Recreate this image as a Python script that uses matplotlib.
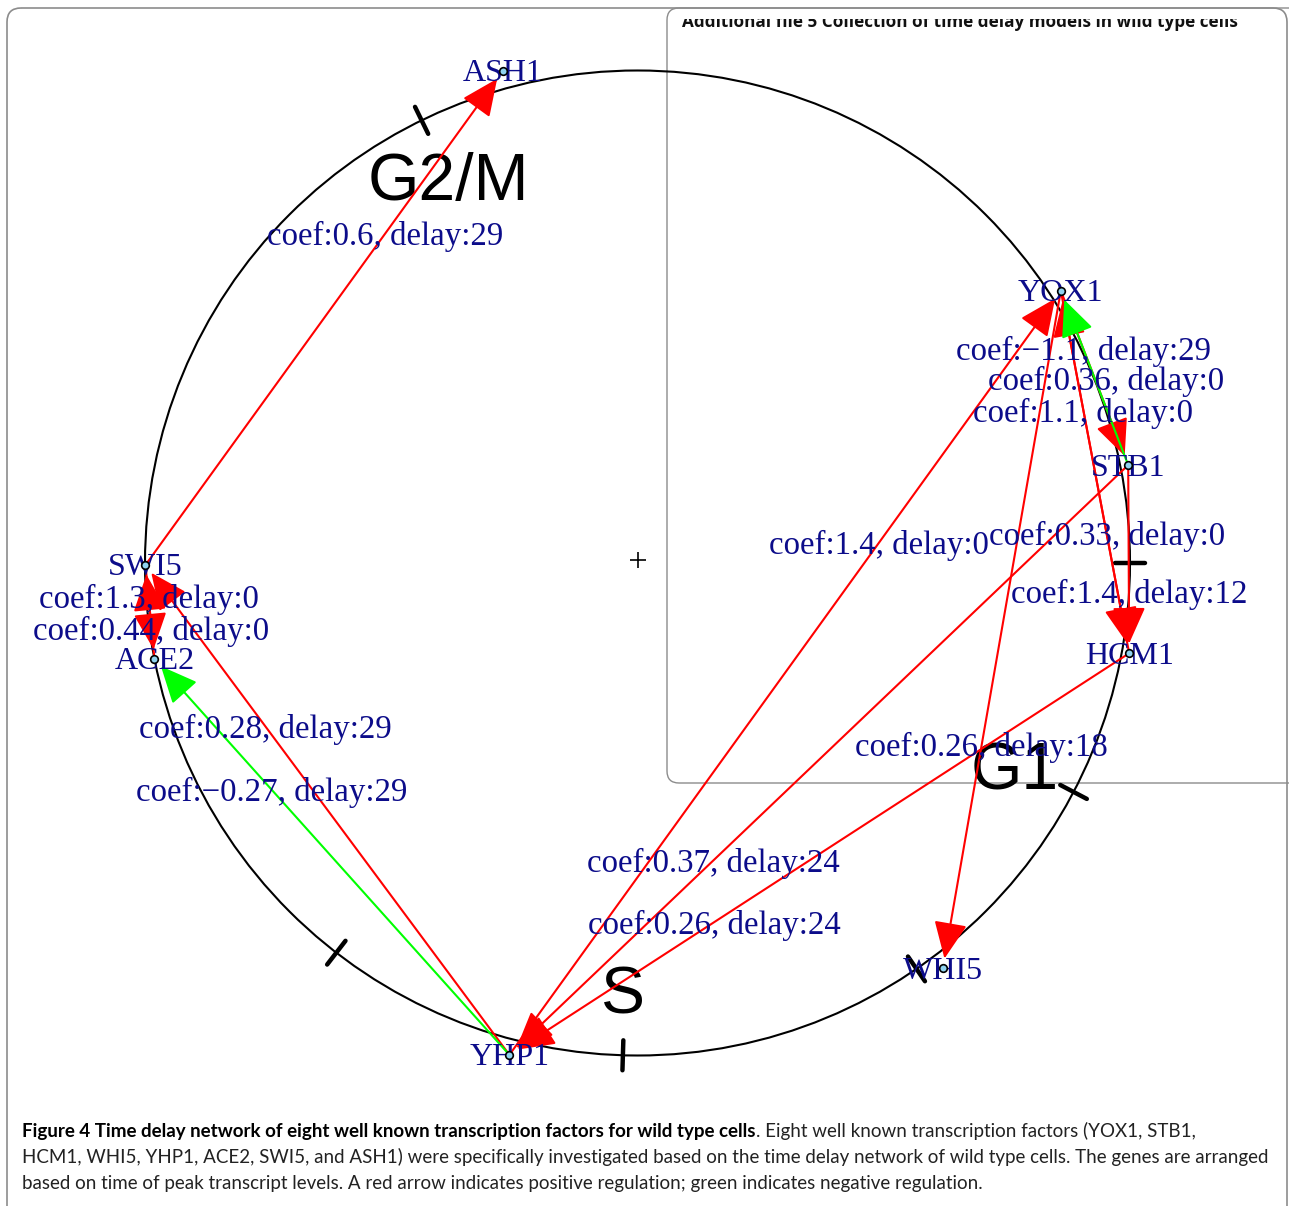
import numpy as np
import matplotlib
matplotlib.use('Agg')
import matplotlib.pyplot as plt
from matplotlib.patches import Circle, FancyBboxPatch
from matplotlib.transforms import Bbox

# ---------------- data ----------------
genes = ['YOX1', 'STB1', 'HCM1', 'WHI5', 'YHP1', 'ACE2', 'SWI5', 'ASH1']
gene_angle = [32.75, 11.29, -10.40, -53.0, -104.6, 191.24, 180.23, 105.3]   # degrees on the cycle circle
gene_radius = [1.022, 1.016, 1.015, 1.030, 1.032, 1.000, 0.999, 1.036]      # relative to circle radius

edge_source = ['SWI5', 'YHP1', 'STB1', 'YOX1', 'HCM1', 'YOX1', 'STB1',
               'YOX1', 'STB1', 'HCM1', 'YHP1', 'YHP1', 'ACE2', 'SWI5']
edge_target = ['ASH1', 'YOX1', 'YOX1', 'STB1', 'YOX1', 'HCM1', 'HCM1',
               'WHI5', 'YHP1', 'YHP1', 'SWI5', 'ACE2', 'SWI5', 'ACE2']
edge_coef = [0.6, 1.4, -1.1, 0.36, 1.1, 0.33, 1.4, 0.26, 0.37, 0.26, 0.28, -0.27, 1.3, 0.44]
edge_delay = [29, 0, 29, 0, 0, 0, 12, 18, 24, 24, 29, 29, 0, 0]

phase_names = ['G2/M', 'S', 'G1']
phase_angle = [116.2, -91.9, -28.4]
boundary_angle = [116.0, -127.7, -91.7, -55.5, -27.7, 0.0]

caption_bold = 'Figure 4 Time delay network of eight well known transcription factors for wild type cells'
caption_rest = '. Eight well known transcription factors (YOX1, STB1,'
caption_line2 = ('HCM1, WHI5, YHP1, ACE2, SWI5, and ASH1) were specifically investigated based on the '
                 'time delay network of wild type cells. The genes are arranged')
caption_line3 = ('based on time of peak transcript levels. A red arrow indicates positive regulation; '
                 'green indicates negative regulation.')
inset_title = 'Additional file 5 Collection of time delay models in wild type cells'

# ---------------- layout ----------------
W, H = 1289, 1206
CX, CY, R = 637.5, 563.0, 492.5
NAVY = '#0c0c8a'
LABEL_T = 0.67
TXT_DY = 3
label_offset = {3: (0, -29)}

fig = plt.figure(figsize=(W / 100, H / 100), dpi=100)
ax = fig.add_axes([0, 0, 1, 1])
ax.set_xlim(0, W)
ax.set_ylim(H, 0)
ax.axis('off')


def polar(angle_deg, r):
    a = np.deg2rad(angle_deg)
    return CX + R * r * np.cos(a), CY - R * r * np.sin(a)


# frames
ax.add_patch(FancyBboxPatch((7, 8), 1280, 1260, boxstyle='round,pad=0,rounding_size=14',
                            fc='none', ec='#8c8c8c', lw=1.2, zorder=0))
ax.add_patch(FancyBboxPatch((667, 8), 640, 775, boxstyle='round,pad=0,rounding_size=12',
                            fc='none', ec='#8c8c8c', lw=1.0, zorder=0))
t_in = ax.text(682, 27, inset_title, fontsize=15, fontweight='bold', family=['Open Sans', 'DejaVu Sans'],
               ha='left', va='baseline', color='#111111', zorder=0)
# only the lower part of the inset title is visible (clipped at the top)
t_in.set_clip_on(True)
t_in.set_clip_path(None)
t_in.set_clip_box(Bbox.from_extents(667, 0, 1300, H - 19))

# cycle circle
ax.add_patch(Circle((CX, CY), R, fc='none', ec='black', lw=1.5, zorder=1))
ax.plot([CX], [CY - 3], marker='+', ms=11, mew=1.2, color='black', zorder=1)

# phase boundary ticks
for a in boundary_angle:
    x0, y0 = polar(a, 1 - 15 / R)
    x1, y1 = polar(a, 1 + 15 / R)
    ax.plot([x0, x1], [y0, y1], color='black', lw=3.2, solid_capstyle='round', zorder=2)

# phase labels
for name, a in zip(phase_names, phase_angle):
    x, y = polar(a, 0.871)
    ax.text(x, y + 5, name, fontsize=47.5, family=['Liberation Sans', 'DejaVu Sans'],
            ha='center', va='center', color='black', zorder=2)

pos = {g: polar(a, r) for g, a, r in zip(genes, gene_angle, gene_radius)}

# edges
for i, (s, t, c, d) in enumerate(zip(edge_source, edge_target, edge_coef, edge_delay)):
    col = '#ff0000' if c > 0 else '#00ff00'
    (sx, sy), (tx, ty) = pos[s], pos[t]
    ax.annotate('', xy=(tx, ty), xytext=(sx, sy),
                arrowprops=dict(arrowstyle='-|>,head_length=1.15,head_width=0.52',
                                mutation_scale=20, color=col, lw=1.5,
                                shrinkA=0, shrinkB=7), zorder=3 if c > 0 else 3.5)
    lx = sx + LABEL_T * (tx - sx)
    ly = sy + LABEL_T * (ty - sy)
    ox, oy = label_offset.get(i, (0, 0))
    txt = f'coef:{c:.2g}, delay:{d}'.replace('-', '\u2212')
    ax.text(lx + ox, ly + oy + TXT_DY, txt, fontsize=23.7, family=['Liberation Serif', 'DejaVu Serif'],
            ha='center', va='center', color=NAVY, zorder=5)

# nodes
for g in genes:
    x, y = pos[g]
    ax.plot([x], [y], marker='o', ms=5.5, mfc='#8fd3f0', mec='black', mew=1.2, zorder=6)
    ax.text(x, y + TXT_DY, g, fontsize=23, family=['Liberation Serif', 'DejaVu Serif'],
            ha='center', va='center', color=NAVY, zorder=5)

# caption
cap_family = ['Liberation Sans Narrow', 'DejaVu Sans Condensed', 'Lato', 'DejaVu Sans']
t2 = ax.text(22, 1157, caption_line2, fontsize=14, family=cap_family, ha='left', va='center',
             color='#222222')
fig.canvas.draw()
rend = fig.canvas.get_renderer()
w = t2.get_window_extent(rend).width
fs = 14 * 1248 / w
t2.set_fontsize(fs)
t1 = ax.text(22, 1131, caption_bold, fontsize=fs, fontweight='bold', family=cap_family,
             ha='left', va='center', color='black')
ax.annotate(caption_rest, xy=(1, 0), xycoords=t1, ha='left', va='bottom', fontsize=fs,
            family=cap_family, color='#222222')
ax.text(22, 1184, caption_line3, fontsize=fs, family=cap_family, ha='left', va='center',
        color='#222222')

fig.canvas.draw()
w = t_in.get_window_extent(rend).width
t_in.set_fontsize(15 * 555 / w)

fig.savefig('out.png', dpi=100)
